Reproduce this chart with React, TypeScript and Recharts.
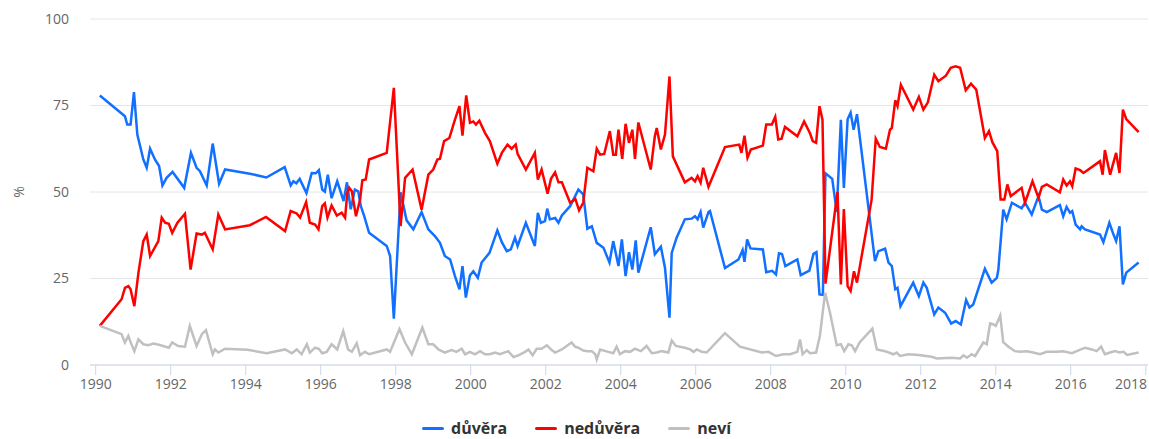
import { LineChart, Line, XAxis, YAxis, CartesianGrid } from 'recharts';

// [rok, %]
const duvera: [number, number][] = [
  [1990.11, 77.9], [1990.78, 71.9], [1990.84, 69.5], [1990.93, 69.5], [1991.02, 78.9], [1991.11, 66.6],
  [1991.27, 59.4], [1991.36, 57.0], [1991.45, 62.5], [1991.58, 59.4], [1991.69, 57.5], [1991.78, 51.9],
  [1991.89, 54.1], [1992.05, 55.8], [1992.36, 51.2], [1992.54, 61.3], [1992.69, 57.0], [1992.78, 56.0],
  [1992.96, 51.9], [1993.12, 64.0], [1993.29, 52.4], [1993.45, 56.5], [1994.11, 55.3], [1994.55, 54.2],
  [1995.04, 57.2], [1995.2, 51.9], [1995.27, 53.1], [1995.35, 52.5], [1995.44, 53.8], [1995.62, 49.7],
  [1995.76, 55.5], [1995.87, 55.4], [1995.95, 56.3], [1996.04, 50.7], [1996.11, 50.1], [1996.19, 55.0],
  [1996.29, 48.2], [1996.44, 53.1], [1996.61, 47.4], [1996.7, 52.8], [1996.8, 45.0], [1996.91, 50.7],
  [1997.0, 50.2], [1997.07, 45.9], [1997.16, 43.0], [1997.29, 38.2], [1997.76, 34.4], [1997.85, 31.5],
  [1997.95, 13.4], [1998.13, 49.9], [1998.29, 41.8], [1998.47, 39.2], [1998.69, 44.2], [1998.87, 39.2],
  [1999.05, 37.2], [1999.18, 35.3], [1999.31, 31.5], [1999.45, 30.5], [1999.58, 25.7], [1999.7, 21.9],
  [1999.78, 28.6], [1999.87, 19.5], [1999.98, 25.9], [2000.07, 27.1], [2000.19, 25.2], [2000.29, 29.6],
  [2000.5, 32.4], [2000.71, 38.9], [2000.83, 35.5], [2000.96, 32.9], [2001.07, 33.4], [2001.18, 36.8],
  [2001.25, 34.4], [2001.47, 41.1], [2001.71, 34.4], [2001.79, 44.0], [2001.87, 41.1], [2001.98, 41.6],
  [2002.04, 45.2], [2002.11, 42.1], [2002.25, 42.5], [2002.34, 41.1], [2002.43, 43.2], [2002.65, 45.9],
  [2002.87, 50.7], [2003.0, 49.3], [2003.11, 39.4], [2003.23, 40.1], [2003.36, 35.3], [2003.54, 33.9],
  [2003.7, 29.6], [2003.8, 35.8], [2003.94, 28.6], [2004.03, 36.3], [2004.13, 25.7], [2004.22, 32.6],
  [2004.31, 27.6], [2004.4, 36.0], [2004.47, 26.7], [2004.8, 39.8], [2004.91, 32.0], [2005.07, 34.2],
  [2005.18, 28.1], [2005.3, 13.7], [2005.36, 32.4], [2005.49, 36.8], [2005.71, 42.1], [2005.89, 42.3],
  [2005.98, 43.0], [2006.05, 42.1], [2006.13, 44.2], [2006.2, 39.7], [2006.34, 44.2], [2006.38, 44.5],
  [2006.78, 28.0], [2007.14, 30.5], [2007.25, 33.2], [2007.3, 29.8], [2007.37, 36.3], [2007.46, 33.7],
  [2007.79, 33.4], [2007.88, 26.8], [2008.04, 27.2], [2008.14, 26.2], [2008.22, 32.3], [2008.3, 32.1],
  [2008.39, 28.6], [2008.71, 30.5], [2008.8, 26.0], [2009.03, 27.3], [2009.14, 32.1], [2009.22, 32.6],
  [2009.3, 20.4], [2009.39, 20.3], [2009.46, 55.4], [2009.64, 53.8], [2009.76, 44.2], [2009.87, 70.9],
  [2009.95, 51.2], [2010.05, 71.0], [2010.13, 72.9], [2010.21, 68.0], [2010.3, 72.5], [2010.78, 30.0],
  [2010.87, 32.9], [2011.05, 33.6], [2011.14, 29.6], [2011.23, 28.6], [2011.32, 21.9], [2011.38, 22.3],
  [2011.46, 17.0], [2011.8, 23.8], [2011.95, 19.9], [2012.07, 23.8], [2012.16, 22.3], [2012.36, 14.6],
  [2012.47, 16.6], [2012.65, 15.1], [2012.81, 12.0], [2012.93, 12.7], [2013.07, 11.7], [2013.21, 18.8],
  [2013.3, 16.6], [2013.4, 17.5], [2013.71, 27.8], [2013.89, 23.8], [2014.03, 25.2], [2014.07, 27.6],
  [2014.2, 44.9], [2014.29, 42.1], [2014.43, 46.9], [2014.69, 45.3], [2014.78, 46.9], [2014.96, 43.5],
  [2015.14, 48.8], [2015.23, 44.9], [2015.36, 44.2], [2015.71, 46.2], [2015.8, 43.0], [2015.89, 45.7],
  [2015.98, 44.0], [2016.04, 44.5], [2016.13, 40.6], [2016.25, 39.2], [2016.29, 40.1], [2016.38, 39.2],
  [2016.78, 37.7], [2016.87, 35.5], [2017.03, 41.1], [2017.14, 37.7], [2017.21, 35.8], [2017.3, 40.1],
  [2017.39, 23.3], [2017.48, 26.7], [2017.81, 29.6],
];

const neduvera: [number, number][] = [
  [1990.11, 11.3], [1990.69, 19.0], [1990.78, 22.3], [1990.87, 22.8], [1990.93, 21.9], [1991.03, 17.0],
  [1991.14, 26.7], [1991.27, 35.8], [1991.36, 37.7], [1991.45, 31.5], [1991.67, 35.8], [1991.76, 42.6],
  [1991.85, 41.1], [1991.95, 40.8], [1992.04, 38.2], [1992.18, 41.1], [1992.38, 43.7], [1992.53, 27.6],
  [1992.69, 38.0], [1992.83, 37.7], [1992.91, 38.2], [1993.12, 33.4], [1993.27, 43.5], [1993.45, 39.2],
  [1994.11, 40.4], [1994.54, 42.8], [1995.05, 38.7], [1995.2, 44.5], [1995.36, 43.8], [1995.45, 42.6],
  [1995.61, 47.1], [1995.71, 41.1], [1995.85, 40.6], [1995.94, 39.2], [1996.04, 45.9], [1996.11, 46.7],
  [1996.18, 42.6], [1996.29, 46.1], [1996.43, 43.2], [1996.56, 44.0], [1996.65, 42.6], [1996.71, 49.9],
  [1996.76, 51.2], [1996.83, 50.2], [1996.94, 43.0], [1997.05, 47.8], [1997.11, 53.4], [1997.2, 53.6],
  [1997.29, 59.4], [1997.76, 61.3], [1997.95, 80.1], [1998.13, 40.1], [1998.25, 54.1], [1998.45, 56.5],
  [1998.69, 44.9], [1998.87, 55.0], [1999.0, 56.5], [1999.11, 59.4], [1999.18, 59.6], [1999.29, 64.7],
  [1999.43, 65.6], [1999.58, 70.9], [1999.7, 74.8], [1999.78, 66.3], [1999.88, 77.9], [1999.98, 70.0],
  [2000.07, 70.4], [2000.14, 69.5], [2000.23, 70.6], [2000.38, 67.1], [2000.51, 64.7], [2000.71, 58.2],
  [2000.83, 61.3], [2000.98, 63.7], [2001.09, 62.5], [2001.2, 63.7], [2001.25, 61.0], [2001.47, 56.5],
  [2001.71, 61.3], [2001.79, 53.6], [2001.89, 56.5], [2002.05, 49.5], [2002.14, 53.8], [2002.25, 55.7],
  [2002.34, 52.8], [2002.43, 52.8], [2002.65, 46.9], [2002.79, 48.0], [2002.89, 44.7], [2003.0, 46.9],
  [2003.11, 57.0], [2003.27, 56.0], [2003.36, 62.5], [2003.45, 60.8], [2003.56, 61.0], [2003.71, 67.6],
  [2003.8, 60.8], [2003.87, 60.8], [2003.94, 68.0], [2004.04, 59.6], [2004.13, 69.7], [2004.22, 64.2],
  [2004.31, 68.0], [2004.38, 59.6], [2004.47, 70.1], [2004.8, 56.5], [2004.91, 66.1], [2004.96, 68.5],
  [2005.07, 62.3], [2005.18, 66.6], [2005.3, 83.4], [2005.39, 60.3], [2005.71, 52.8], [2005.89, 54.1],
  [2005.98, 53.1], [2006.05, 54.6], [2006.13, 52.7], [2006.2, 57.0], [2006.34, 51.5], [2006.78, 63.0],
  [2007.16, 63.7], [2007.22, 61.3], [2007.3, 66.3], [2007.38, 59.9], [2007.47, 62.3], [2007.79, 63.4],
  [2007.88, 69.5], [2008.03, 69.5], [2008.12, 71.7], [2008.2, 65.2], [2008.29, 65.4], [2008.38, 68.8],
  [2008.71, 66.1], [2008.89, 70.4], [2009.05, 66.9], [2009.12, 64.7], [2009.21, 64.2], [2009.3, 74.8],
  [2009.38, 70.9], [2009.46, 23.5], [2009.78, 50.0], [2009.87, 23.3], [2009.95, 45.1], [2010.05, 22.8],
  [2010.13, 21.4], [2010.22, 27.1], [2010.3, 23.8], [2010.69, 47.8], [2010.8, 65.4], [2010.91, 63.0],
  [2011.07, 62.5], [2011.18, 68.0], [2011.23, 68.5], [2011.32, 76.5], [2011.38, 74.8], [2011.47, 81.0],
  [2011.8, 73.8], [2011.95, 77.5], [2012.07, 73.8], [2012.19, 75.9], [2012.36, 83.9], [2012.47, 82.0],
  [2012.67, 83.6], [2012.8, 85.9], [2012.93, 86.3], [2013.05, 85.9], [2013.2, 79.4], [2013.34, 81.3],
  [2013.48, 79.6], [2013.71, 65.6], [2013.82, 67.6], [2013.91, 64.4], [2014.04, 61.8], [2014.13, 47.8],
  [2014.23, 47.8], [2014.31, 52.2], [2014.4, 48.8], [2014.69, 51.2], [2014.78, 46.9], [2014.98, 53.1],
  [2015.14, 48.3], [2015.23, 51.5], [2015.36, 52.2], [2015.71, 49.9], [2015.8, 53.6], [2015.89, 51.9],
  [2015.98, 53.1], [2016.04, 51.7], [2016.13, 56.8], [2016.25, 56.3], [2016.34, 55.5], [2016.69, 58.2],
  [2016.78, 58.9], [2016.85, 55.0], [2016.91, 62.1], [2017.05, 55.0], [2017.21, 61.3], [2017.3, 55.5],
  [2017.39, 73.8], [2017.48, 71.1], [2017.81, 67.3],
];

const nevi: [number, number][] = [
  [1990.11, 11.3], [1990.69, 8.9], [1990.78, 6.5], [1990.87, 8.4], [1990.93, 6.6], [1991.03, 4.0],
  [1991.14, 7.4], [1991.27, 6.0], [1991.4, 5.7], [1991.54, 6.2], [1991.71, 5.8], [1991.95, 5.0],
  [1992.04, 6.5], [1992.2, 5.5], [1992.38, 5.3], [1992.51, 11.3], [1992.69, 5.5], [1992.83, 8.9],
  [1992.94, 10.1], [1993.12, 3.1], [1993.18, 4.5], [1993.27, 3.6], [1993.45, 4.7], [1994.05, 4.4],
  [1994.56, 3.4], [1995.05, 4.5], [1995.23, 3.4], [1995.36, 4.5], [1995.49, 3.1], [1995.63, 6.0],
  [1995.71, 3.6], [1995.85, 5.0], [1995.95, 4.7], [1996.04, 3.4], [1996.16, 3.8], [1996.29, 6.0],
  [1996.44, 4.5], [1996.6, 9.8], [1996.73, 4.5], [1996.83, 3.8], [1996.96, 6.3], [1997.05, 2.8],
  [1997.18, 3.8], [1997.29, 3.1], [1997.76, 4.5], [1997.85, 3.8], [1998.1, 10.4], [1998.25, 6.5],
  [1998.43, 3.1], [1998.71, 10.8], [1998.87, 6.0], [1999.0, 6.0], [1999.14, 4.5], [1999.31, 3.6],
  [1999.49, 4.3], [1999.62, 3.8], [1999.76, 4.7], [1999.85, 3.1], [1999.98, 3.8], [2000.11, 3.1],
  [2000.25, 4.0], [2000.38, 3.1], [2000.51, 3.1], [2000.65, 3.6], [2000.78, 3.1], [2001.0, 4.0],
  [2001.14, 2.3], [2001.27, 2.8], [2001.45, 3.8], [2001.54, 4.5], [2001.65, 2.8], [2001.76, 4.7],
  [2001.89, 4.7], [2002.03, 5.7], [2002.16, 4.3], [2002.25, 3.6], [2002.43, 4.5], [2002.69, 6.5],
  [2002.78, 5.3], [2002.87, 5.0], [2003.0, 4.2], [2003.11, 4.0], [2003.23, 4.0], [2003.32, 3.1],
  [2003.36, 1.6], [2003.45, 4.5], [2003.67, 3.8], [2003.8, 3.4], [2003.89, 5.3], [2003.98, 3.1],
  [2004.11, 4.0], [2004.25, 3.8], [2004.38, 4.7], [2004.54, 4.0], [2004.69, 5.5], [2004.83, 3.4],
  [2004.96, 3.6], [2005.09, 4.0], [2005.27, 3.6], [2005.36, 7.1], [2005.47, 5.5], [2005.71, 5.0],
  [2005.85, 4.5], [2005.94, 3.8], [2006.03, 4.5], [2006.16, 3.8], [2006.29, 3.6], [2006.78, 9.2],
  [2007.18, 5.3], [2007.76, 3.6], [2007.94, 3.8], [2008.14, 2.6], [2008.34, 3.1], [2008.52, 3.1],
  [2008.71, 3.8], [2008.78, 7.4], [2008.85, 3.1], [2008.96, 4.3], [2009.05, 3.4], [2009.21, 3.6],
  [2009.31, 8.4], [2009.45, 20.9], [2009.58, 15.1], [2009.76, 5.7], [2009.87, 6.0], [2009.96, 4.0],
  [2010.07, 6.0], [2010.16, 5.7], [2010.25, 4.0], [2010.37, 6.5], [2010.71, 10.5], [2010.83, 4.5],
  [2011.05, 4.0], [2011.27, 3.1], [2011.36, 3.6], [2011.45, 2.6], [2011.67, 3.1], [2011.94, 2.9],
  [2012.29, 2.4], [2012.43, 1.9], [2012.83, 2.1], [2013.05, 1.9], [2013.14, 2.8], [2013.23, 2.1],
  [2013.36, 3.1], [2013.45, 2.6], [2013.67, 6.5], [2013.76, 6.0], [2013.85, 12.0], [2013.94, 11.7],
  [2014.0, 11.3], [2014.12, 14.3], [2014.2, 6.6], [2014.34, 5.3], [2014.51, 4.0], [2014.65, 3.8],
  [2014.83, 4.0], [2015.0, 3.6], [2015.18, 3.1], [2015.36, 3.8], [2015.63, 3.8], [2015.8, 4.0],
  [2016.03, 3.4], [2016.16, 4.0], [2016.38, 5.0], [2016.56, 4.5], [2016.69, 4.0], [2016.81, 5.3],
  [2016.91, 3.1], [2017.05, 3.6], [2017.18, 4.0], [2017.3, 3.6], [2017.41, 3.8], [2017.5, 2.9],
  [2017.81, 3.6],
];

const X_TICKS = [1990, 1992, 1994, 1996, 1998, 2000, 2002, 2004, 2006, 2008, 2010, 2012, 2014, 2016, 2018];
const Y_TICKS = [0, 25, 50, 75, 100];

const SERIES = [
  { name: 'důvěra', color: '#1170ff', points: duvera },
  { name: 'nedůvěra', color: '#ff0000', points: neduvera },
  { name: 'neví', color: '#c0c0c0', points: nevi },
];

const FONT = "'Open Sans', 'DejaVu Sans', sans-serif";

const XTick = ({ x, y, payload }: any) => {
  const last = payload.value === X_TICKS[X_TICKS.length - 1];
  return (
    <text
      x={last ? 1147 : x}
      y={y}
      dy="0.71em"
      textAnchor={last ? 'end' : 'middle'}
      fill="#666"
      fontSize={14}
    >
      {payload.value}
    </text>
  );
};

const PercentLabel = ({ viewBox }: any) => {
  const cx = viewBox.x + 18;
  const cy = viewBox.y + viewBox.height / 2;
  return (
    <text
      x={cx}
      y={cy}
      transform={`rotate(-90 ${cx} ${cy})`}
      textAnchor="middle"
      dominantBaseline="central"
      fill="#666"
      fontSize={14}
    >
      %
    </text>
  );
};

export default function App() {
  return (
    <div style={{ position: 'absolute', left: 0, top: 0, width: 1149, height: 439, fontFamily: FONT, background: '#fff' }}>
      <LineChart width={1149} height={439} margin={{ top: 19, right: 1, left: 0, bottom: 44 }}>
        <CartesianGrid vertical={false} stroke="#e6e6e6" />
        <XAxis
          type="number"
          dataKey="x"
          domain={[1989.848, 2018.06]}
          ticks={X_TICKS}
          allowDataOverflow
          height={30}
          stroke="#ccd6eb"
          tickSize={10}
          tickMargin={4}
          tick={<XTick />}
        />
        <YAxis
          type="number"
          domain={[0, 100]}
          ticks={Y_TICKS}
          width={90}
          axisLine={false}
          tickLine={false}
          tickSize={0}
          tickMargin={21}
          tick={{ fill: '#666', fontSize: 14 }}
          label={{ value: '%', content: PercentLabel }}
        />
        {SERIES.map((s) => (
          <Line
            key={s.name}
            data={s.points.map(([x, v]) => ({ x, v }))}
            dataKey="v"
            name={s.name}
            type="linear"
            stroke={s.color}
            strokeWidth={2.5}
            dot={false}
            activeDot={false}
            isAnimationActive={false}
          />
        ))}
      </LineChart>
      <div
        style={{
          position: 'absolute',
          left: 422,
          top: 420,
          display: 'flex',
          alignItems: 'center',
          height: 16,
          lineHeight: '16px',
        }}
      >
        {SERIES.map((s, i) => (
          <div key={s.name} style={{ display: 'flex', alignItems: 'center', marginLeft: i === 0 ? 0 : 28 }}>
            <span style={{ display: 'inline-block', width: 22, height: 3, borderRadius: 2, background: s.color, marginRight: 7 }} />
            <span style={{ fontWeight: 700, fontSize: 16, color: '#333', whiteSpace: 'nowrap' }}>{s.name}</span>
          </div>
        ))}
      </div>
    </div>
  );
}
